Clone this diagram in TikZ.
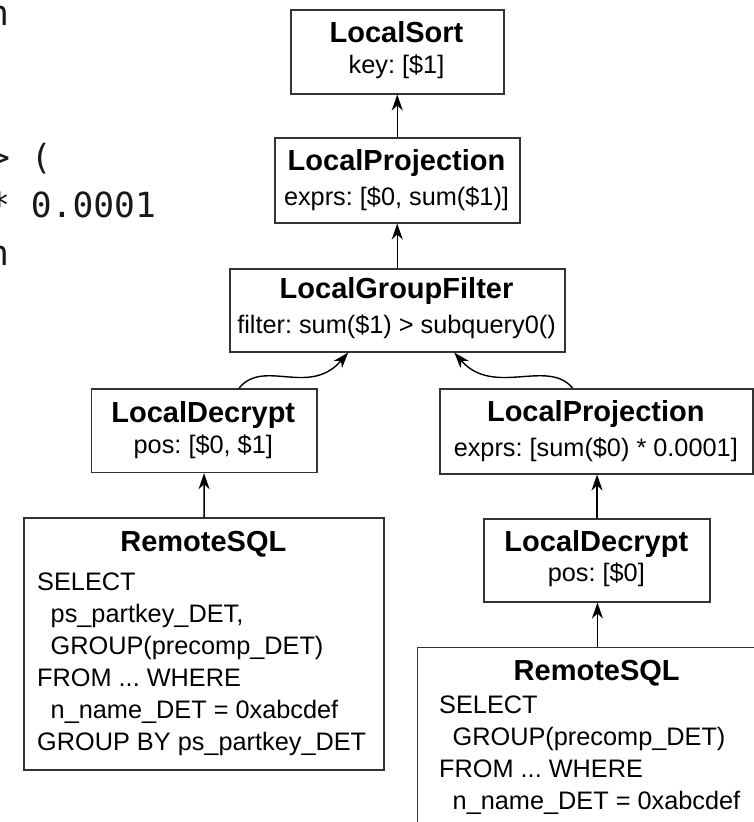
\documentclass[tikz,border=0pt]{standalone}
\usepackage{fontspec}
\setmainfont{Liberation Sans}
\newfontfamily\fragmono{DejaVu Sans Mono}
\usetikzlibrary{arrows.meta}
\frenchspacing
\begin{document}
\begin{tikzpicture}[x=1pt,y=-1pt,
  opbox/.style={draw=black!80, line width=1.5pt, inner sep=0pt, anchor=north west},
  ttl/.style={font=\bfseries\fontsize{29}{29}\selectfont, inner sep=0pt, anchor=base},
  sub/.style={font=\fontsize{25.3}{25.3}\selectfont, inner sep=0pt, anchor=base},
  sql/.style={font=\fontsize{25.3}{25.3}\selectfont, inner sep=0pt, anchor=base west},
  frag/.style={font=\fragmono\fontsize{34.6}{34.6}\selectfont, inner sep=0pt, anchor=base west, text=black!90},
  arr/.style={-{Stealth[length=16pt,width=11pt,inset=5pt]}, line width=1.4pt, black}
]
\useasboundingbox (0,0) rectangle (753,822);

% fragments of neighbouring text (cut off at the left edge, as in the reference)
\node[frag] (f1) at (-12,25) {n};
\node[frag] (f2) at (-11,169) {> (};
\node[frag] (f3) at (-11,217) {* 0.0001};
\node[frag] (f4) at (-12,265) {n};

% LocalSort
\node[opbox, minimum width=213pt, minimum height=84pt] (ls) at (290,9) {};
\node[ttl] (lst) at (396.5,42.5) {LocalSort};
\node[sub] (lss) at (396.5,73) {key: [\$1]};

% LocalProjection (top)
\node[opbox, minimum width=245pt, minimum height=85pt] (lp) at (274,137) {};
\node[ttl] (lpt) at (396.5,170) {LocalProjection};
\node[sub] (lps) at (396.5,205) {exprs: [\$0, sum(\$1)]};

% LocalGroupFilter
\node[opbox, minimum width=335pt, minimum height=83pt] (lgf) at (229,268) {};
\node[ttl] (lgft) at (396.5,298.5) {LocalGroupFilter};
\node[sub] (lgfs) at (396.5,333) {filter: sum(\$1) > subquery0()};

% Left LocalDecrypt
\node[opbox, minimum width=225.3pt, minimum height=83.7pt] (ldl) at (90.7,388) {};
\node[ttl] (ldlt) at (203.3,422) {LocalDecrypt};
\node[sub] (ldls) at (203.3,453.5) {pos: [\$0, \$1]};

% Right LocalProjection
\node[opbox, minimum width=313pt, minimum height=85pt] (rp) at (439.3,388) {};
\node[ttl] (rpt) at (595.8,421.5) {LocalProjection};
\node[sub] (rps) at (595.8,456.5) {exprs: [sum(\$0) * 0.0001]};

% Right LocalDecrypt
\node[opbox, minimum width=226pt, minimum height=83pt] (rdl) at (483.3,518) {};
\node[ttl] (rdlt) at (596.3,551) {LocalDecrypt};
\node[sub] (rdls) at (596.3,581.6) {pos: [\$0]};

% Left RemoteSQL
\node[opbox, minimum width=360pt, minimum height=252.3pt] (rsl) at (23.3,517) {};
\node[ttl] (rslt) at (203.3,551.7) {RemoteSQL};
\node[sql] (rsl1) at (37,590) {SELECT};
\node[sql] (rsl2) at (50.5,622) {ps\_partkey\_DET,};
\node[sql] (rsl3) at (50.5,654) {GROUP(precomp\_DET)};
\node[sql] (rsl4) at (37,686) {FROM ... WHERE};
\node[sql] (rsl5) at (50.5,718) {n\_name\_DET = 0xabcdef};
\node[sql] (rsl6) at (37,750) {GROUP BY ps\_partkey\_DET};

% Right RemoteSQL (cut off by the picture edge)
\node[opbox, minimum width=360pt, minimum height=260pt] (rsr) at (416.7,646.5) {};
\node[ttl] (rsrt) at (596.7,680) {RemoteSQL};
\node[sql] (rsr1) at (439,713.3) {SELECT};
\node[sql] (rsr2) at (452.5,745.5) {GROUP(precomp\_DET)};
\node[sql] (rsr3) at (439,777) {FROM ... WHERE};
\node[sql] (rsr4) at (452.5,809) {n\_name\_DET = 0xabcdef};

% connectors
\draw[arr] (lp.north) -- (ls.south);
\draw[arr] (lgf.north) -- (lp.south);
\draw[arr] ([xshift=35pt]ldl.north) .. controls +(25,-30) and +(-39,45) .. ([xshift=-49pt]lgf.south);
\draw[arr] ([xshift=-24pt]rp.north) .. controls +(-25,-30) and +(39,45) .. ([xshift=57pt]lgf.south);
\draw[arr] (rsl.north) -- (ldl.south);
\draw[arr] (rdl.north) -- (rdl.north |- rp.south);
\draw[arr] (rsr.north) -- (rsr.north |- rdl.south);
\end{tikzpicture}
\end{document}
